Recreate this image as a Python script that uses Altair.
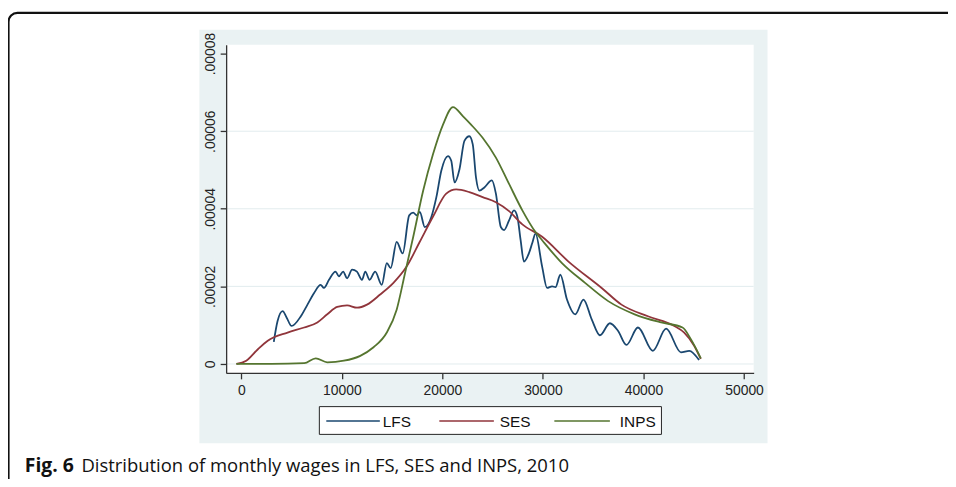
import altair as alt
import pandas as pd

# ---------------- data ----------------
series_names = ["LFS", "SES", "INPS"]
series_colors = ["#1A476F", "#90353B", "#55752F"]

lfs_wage = [3230, 3600, 4110, 4500, 5000, 5920, 6580, 7240, 7890, 8220, 8720, 9370,
            9700, 10130, 10520, 11020, 11500, 12000, 12330, 12760, 13310, 13970,
            14470, 14860, 15450, 16050, 16700, 17100, 17450, 17750, 18250, 18900,
            19400, 19890, 20550, 20880, 21210, 21700, 22190, 22680, 23020, 23340,
            23680, 24170, 24920, 25320, 25810, 26130, 26630, 27120, 27460, 27780,
            28110, 28600, 28930, 29260, 29920, 30410, 30910, 31250, 31730, 32390,
            33210, 34030, 34850, 35670, 36660, 37480, 38300, 39450, 40930, 42250,
            43730, 44550, 45530]
lfs_density = [5.7e-6, 1.1e-5, 1.36e-5, 1.2e-5, 9.8e-6, 1.23e-5, 1.53e-5, 1.83e-5,
               2.04e-5, 1.96e-5, 2.17e-5, 2.38e-5, 2.26e-5, 2.38e-5, 2.21e-5, 2.43e-5,
               2.38e-5, 2.17e-5, 2.38e-5, 2.17e-5, 2.38e-5, 2.04e-5, 2.60e-5, 2.47e-5,
               3.15e-5, 2.85e-5, 3.83e-5, 3.90e-5, 3.83e-5, 3.92e-5, 3.53e-5, 3.79e-5,
               4.30e-5, 4.98e-5, 5.36e-5, 5.24e-5, 4.68e-5, 5.02e-5, 5.75e-5, 5.87e-5,
               5.66e-5, 4.81e-5, 4.47e-5, 4.55e-5, 4.73e-5, 4.39e-5, 3.53e-5, 3.45e-5,
               3.70e-5, 3.96e-5, 3.79e-5, 3.19e-5, 2.64e-5, 2.85e-5, 3.11e-5, 3.36e-5,
               2.51e-5, 1.96e-5, 2.00e-5, 1.98e-5, 2.30e-5, 1.66e-5, 1.28e-5, 1.66e-5,
               1.15e-5, 7.4e-6, 1.05e-5, 8.5e-6, 4.9e-6, 9.4e-6, 3.4e-6, 9.1e-6,
               3.0e-6, 3.4e-6, 1.0e-6]

ses_wage = [-490, 490, 1650, 2630, 4600, 6250, 7560, 8550, 9540, 10520, 11510, 12500,
            13810, 15130, 16440, 17750, 19070, 20380, 21370, 22680, 24000, 25320,
            26630, 27950, 29920, 32540, 35840, 37810, 40440, 43070, 44050, 45040, 45700]
ses_density = [0.0, 8.4e-7, 3.8e-6, 6.0e-6, 8.1e-6, 9.4e-6, 1.07e-5, 1.28e-5, 1.47e-5,
               1.51e-5, 1.45e-5, 1.53e-5, 1.79e-5, 2.09e-5, 2.51e-5, 3.15e-5, 3.80e-5,
               4.39e-5, 4.50e-5, 4.43e-5, 4.30e-5, 4.17e-5, 3.94e-5, 3.60e-5, 3.28e-5,
               2.64e-5, 1.96e-5, 1.53e-5, 1.23e-5, 9.8e-6, 8.1e-6, 4.7e-6, 1.3e-6]

inps_wage = [-490, 3000, 6260, 7400, 8550, 10200, 11830, 13150, 14470, 15450, 16280,
             17100, 18090, 19070, 20060, 21050, 22030, 22850, 24000, 25320, 26630,
             27950, 29260, 29920, 31890, 34190, 36490, 39120, 41760, 43880, 44710, 45700]
inps_density = [0.0, 0.0, 2e-7, 1.46e-6, 4.3e-7, 8.4e-7, 2.1e-6, 4.3e-6, 8.1e-6, 1.4e-5,
                2.34e-5, 3.28e-5, 4.47e-5, 5.41e-5, 6.17e-5, 6.62e-5, 6.39e-5, 6.17e-5,
                5.83e-5, 5.32e-5, 4.64e-5, 3.96e-5, 3.40e-5, 3.19e-5, 2.60e-5, 2.09e-5,
                1.62e-5, 1.28e-5, 1.07e-5, 9.4e-6, 6.4e-6, 1.46e-6]

x_ticks = [0, 10000, 20000, 30000, 40000, 50000]
y_ticks = [0, 0.00002, 0.00004, 0.00006, 0.00008]
grid_values = [0, 0.00002, 0.00004, 0.00006]
caption_bold = "Fig. 6"
caption_text = "Distribution of monthly wages in LFS, SES and INPS, 2010"

# ---------------- layout ----------------
W, H = 532, 331
x_dom = [-1509, 50957]
y_dom = [-0.0000023, 0.0000823]
AXIS_FONT = "Liberation Sans"
REGION = "#EAF2F3"

frames = []
for name, xs, ys in [("LFS", lfs_wage, lfs_density),
                     ("SES", ses_wage, ses_density),
                     ("INPS", inps_wage, inps_density)]:
    frames.append(pd.DataFrame({"wage": xs, "density": ys, "series": name}))
df = pd.concat(frames, ignore_index=True)
grid_df = pd.DataFrame({"density": grid_values})
one = pd.DataFrame({"k": [0]})

x_enc = alt.X("wage:Q", title=None,
              scale=alt.Scale(domain=x_dom, nice=False, zero=False),
              axis=alt.Axis(values=x_ticks, format="d", grid=False, zindex=1,
                            tickSize=6, labelPadding=5, labelFontSize=14,
                            labelFont=AXIS_FONT, labelColor="#222",
                            domainColor="#333", tickColor="#333",
                            domainWidth=1.3, tickWidth=1.3,
                            labelFlush=False, labelOverlap=False))
y_enc = alt.Y("density:Q", title=None,
              scale=alt.Scale(domain=y_dom, nice=False, zero=False),
              axis=alt.Axis(values=y_ticks, grid=False, zindex=1,
                            labelExpr="datum.value == 0 ? '0' : replace(format(datum.value, '.5f'), '0.', '.')",
                            labelAngle=270, labelAlign="center", labelBaseline="alphabetic",
                            tickSize=6, labelPadding=6, labelFontSize=14,
                            labelFont=AXIS_FONT, labelColor="#222",
                            domainColor="#333", tickColor="#333",
                            domainWidth=1.3, tickWidth=1.3,
                            labelFlush=False, labelOverlap=False))

region = alt.Chart(one).mark_rect(fill=REGION).encode(
    x=alt.value(-27), x2=alt.value(546), y=alt.value(-15), y2=alt.value(402))
plot_bg = alt.Chart(one).mark_rect(fill="white").encode(
    x=alt.value(0), x2=alt.value(W), y=alt.value(0), y2=alt.value(H))
grid = alt.Chart(grid_df).mark_rule(color="#E2ECEE", strokeWidth=1).encode(
    y=y_enc, x=alt.value(0), x2=alt.value(W))

lines = alt.Chart(df).mark_line(interpolate="monotone", strokeWidth=1.8).encode(
    x=x_enc, y=y_enc,
    color=alt.Color("series:N", scale=alt.Scale(domain=series_names, range=series_colors),
                    legend=None),
    order=alt.Order("wage:Q"))

legend_box = alt.Chart(one).mark_rect(fill="white", stroke="#222", strokeWidth=1).encode(
    x=alt.value(94), x2=alt.value(439), y=alt.value(365), y2=alt.value(393))
legend_layers = []
sym_x1 = [101, 215, 331]
sym_x2 = [155, 270, 387]
lab_x = [158, 276, 397]
for name, col, a, b, lx in zip(series_names, series_colors, sym_x1, sym_x2, lab_x):
    legend_layers.append(alt.Chart(one).mark_rule(color=col, strokeWidth=1.6).encode(
        x=alt.value(a), x2=alt.value(b), y=alt.value(379.5)))
    legend_layers.append(alt.Chart(one).mark_text(
        text=name, align="left", baseline="alphabetic", font=AXIS_FONT,
        fontSize=15.5, color="#111").encode(x=alt.value(lx), y=alt.value(386)))

cap1 = alt.Chart(one).mark_text(text=caption_bold, align="left", baseline="alphabetic",
                                font="Open Sans", fontWeight="bold", fontSize=19.5,
                                color="#111").encode(x=alt.value(-203), y=alt.value(431))
cap2 = alt.Chart(one).mark_text(text=caption_text, align="left", baseline="alphabetic",
                                font="Open Sans", fontSize=18.6,
                                color="#111").encode(x=alt.value(-146), y=alt.value(431))
frame = alt.Chart(one).mark_rect(fill="transparent", stroke="#111", strokeWidth=2.2,
                                 cornerRadius=9).encode(
    x=alt.value(-219.5), x2=alt.value(760), y=alt.value(-32), y2=alt.value(480))

chart = alt.layer(region, plot_bg, grid, lines, legend_box, *legend_layers,
                  cap1, cap2, frame).properties(
    width=W, height=H,
    autosize=alt.AutoSizeParams(type="none"),
    padding={"left": 220, "top": 35, "right": 196, "bottom": 105},
).configure_view(strokeWidth=0)

chart.save("out.html", embed_options={"renderer": "svg", "actions": False})
